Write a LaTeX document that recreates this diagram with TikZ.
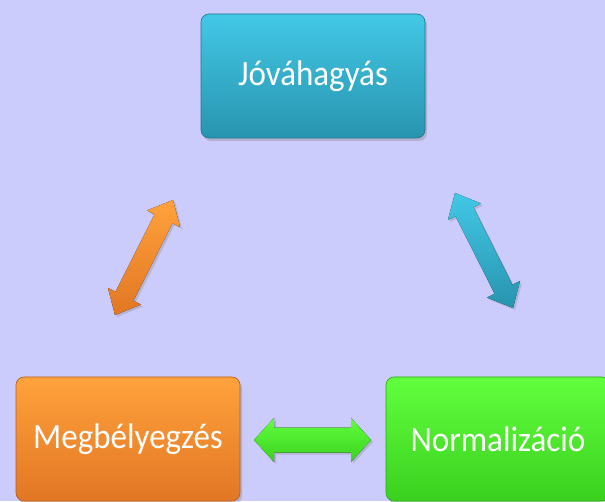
\documentclass[tikz,border=0pt]{standalone}
\usepackage{fontspec}
\setmainfont{Carlito}
\usetikzlibrary{calc,shadows}
\definecolor{bg}{RGB}{203,203,252}
\definecolor{tealT}{RGB}{66,200,230}
\definecolor{tealB}{RGB}{40,148,175}
\definecolor{oraT}{RGB}{255,162,60}
\definecolor{oraB}{RGB}{226,118,36}
\definecolor{grnT}{RGB}{98,255,62}
\definecolor{grnB}{RGB}{58,208,30}
\newcommand\boxtxt[1]{\scalebox{1}[1.08]{#1}}
\tikzset{
  box/.style={rounded corners=8pt, minimum width=224pt, minimum height=124pt,
    text=white, font=\fontsize{33}{38}\selectfont, inner sep=0pt,
    drop shadow={opacity=0.35, shadow xshift=2pt, shadow yshift=-3pt}},
  tealbox/.style={box, top color=tealT, bottom color=tealB, draw=tealB!80!black, line width=0.6pt},
  orabox/.style={box, top color=oraT, bottom color=oraB, draw=oraB!80!black, line width=0.6pt},
  grnbox/.style={box, top color=grnT, bottom color=grnB, draw=grnB!80!black, line width=0.6pt},
}
% #1 tip A, #2 tip B, #3 shaft half width, #4 head half width, #5 head length, #6 style
\newcommand\dblarrow[6]{%
  \coordinate (p) at ($(#1)!#5!(#2)$);
  \coordinate (q) at ($(#2)!#5!(#1)$);
  \fill[#6] (#1) -- ($(p)!#4!90:(#2)$) -- ($(p)!#3!90:(#2)$) -- ($(q)!#3!-90:(#1)$)
    -- ($(q)!#4!-90:(#1)$) -- (#2) -- ($(q)!#4!90:(#1)$) -- ($(q)!#3!90:(#1)$)
    -- ($(p)!#3!-90:(#2)$) -- ($(p)!#4!-90:(#2)$) -- cycle;}
\begin{document}
\begin{tikzpicture}[x=1pt,y=1pt]
\useasboundingbox (0,0) rectangle (605,501);
\fill[bg] (0,0) rectangle (605,501);
\node[tealbox] (jov) at (313,425) {\boxtxt{Jóváhagyás}};
\node[orabox] (meg) at (128,62) {\boxtxt{Megbélyegzés}};
\node[grnbox] (nor) at (498,62) {\boxtxt{Normalizáció}};
% arrow tips
\coordinate (oA) at (173,301);
\coordinate (oB) at (115,186);
\coordinate (tA) at (455,308);
\coordinate (tB) at (513,193);
\coordinate (gA) at (254,61);
\coordinate (gB) at (371,61);
\dblarrow{oA}{oB}{10pt}{18.5pt}{21pt}{top color=oraT, bottom color=oraB, drop shadow={opacity=0.3, shadow xshift=2pt, shadow yshift=-2pt}}
\dblarrow{tA}{tB}{10pt}{18.5pt}{21pt}{top color=tealT, bottom color=tealB, drop shadow={opacity=0.3, shadow xshift=2pt, shadow yshift=-2pt}}
\dblarrow{gA}{gB}{12.5pt}{22pt}{20pt}{top color=grnT, bottom color=grnB, drop shadow={opacity=0.3, shadow xshift=2pt, shadow yshift=-2pt}}
\end{tikzpicture}
\end{document}
